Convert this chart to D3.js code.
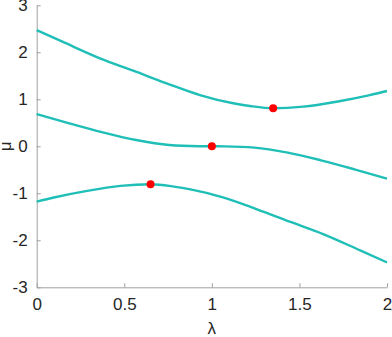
<!DOCTYPE html>
<html>
<head>
<meta charset="utf-8">
<script src="https://cdn.jsdelivr.net/npm/d3@7"></script>
<style>
  body { margin: 0; background: #fff; }
  svg text { font-family: "Liberation Sans", Arial, sans-serif; fill: #262626; }
</style>
</head>
<body>
<div id="chart"></div>
<script>
// branches
const upperX = [0, 0.15, 0.361, 0.551, 0.742, 0.932, 1.122, 1.217, 1.35, 1.522, 1.712, 1.902, 2];
const upperY = [2.47, 2.22, 1.872, 1.609, 1.34, 1.09, 0.915, 0.857, 0.808, 0.843, 0.949, 1.09, 1.177];
const middleX = [0, 0.186, 0.377, 0.567, 0.757, 0.928, 1.072, 1.243, 1.433, 1.623, 1.814, 2];
const middleY = [0.687, 0.489, 0.298, 0.134, 0.028, 0.002, -0.002, -0.028, -0.134, -0.298, -0.489, -0.687];
const lowerX = [0, 0.098, 0.288, 0.478, 0.65, 0.783, 0.878, 1.068, 1.258, 1.449, 1.639, 1.85, 2];
const lowerY = [-1.177, -1.09, -0.949, -0.843, -0.808, -0.857, -0.915, -1.09, -1.34, -1.609, -1.872, -2.22, -2.47];
const markX = [0.65, 1, 1.35];
const markY = [-0.808, 0, 0.808];
const xTicks = [0, 0.5, 1, 1.5, 2];
const yTicks = [-3, -2, -1, 0, 1, 2, 3];

const w = 392, h = 337;
const svg = d3.select("#chart").append("svg").attr("width", w).attr("height", h);

const x = d3.scaleLinear().domain([0, 2]).range([36.7, 387]);
const y = d3.scaleLinear().domain([-3, 3]).range([287.3, 5.3]);

const xAxis = d3.axisBottom(x).tickValues(xTicks).tickSizeInner(-4).tickSizeOuter(0)
    .tickFormat(d3.format("~g"));
const yAxis = d3.axisLeft(y).tickValues(yTicks).tickSizeInner(-4).tickSizeOuter(0).tickPadding(9)
    .tickFormat(d => d);

const gx = svg.append("g").attr("transform", "translate(0," + y(-3) + ")").call(xAxis);
const gy = svg.append("g").attr("transform", "translate(" + x(0) + ",0)").call(yAxis);
[gx, gy].forEach(g => {
  g.select(".domain").attr("stroke", "#a0a0a0").attr("stroke-width", 1);
  g.selectAll(".tick line").attr("stroke", "#a0a0a0");
  g.selectAll(".tick text").attr("font-size", "17px").attr("fill", "#262626")
    .attr("font-family", "Liberation Sans, Arial, sans-serif");
});
gx.selectAll(".tick text").attr("dy", "0.71em").attr("y", 11);

const line = d3.line().x(d => x(d[0])).y(d => y(d[1])).curve(d3.curveMonotoneX);
[[upperX, upperY], [middleX, middleY], [lowerX, lowerY]].forEach(([xs, ys]) => {
  svg.append("path")
    .datum(xs.map((v, i) => [v, ys[i]]))
    .attr("d", line)
    .attr("fill", "none")
    .attr("stroke", "#1fbfb8")
    .attr("stroke-width", 2.4);
});

svg.selectAll("circle.mark")
  .data(markX.map((v, i) => [v, markY[i]]))
  .enter().append("circle")
  .attr("class", "mark")
  .attr("cx", d => x(d[0]))
  .attr("cy", d => y(d[1]))
  .attr("r", 4)
  .attr("fill", "#ff0000");

svg.append("text")
  .attr("x", (x(0) + x(2)) / 2)
  .attr("y", 334)
  .attr("text-anchor", "middle")
  .attr("font-size", "17px")
  .text("λ");

svg.append("text")
  .attr("transform", "translate(11," + y(0) + ") rotate(-90)")
  .attr("text-anchor", "middle")
  .attr("font-size", "17px")
  .text("μ");
</script>
</body>
</html>
